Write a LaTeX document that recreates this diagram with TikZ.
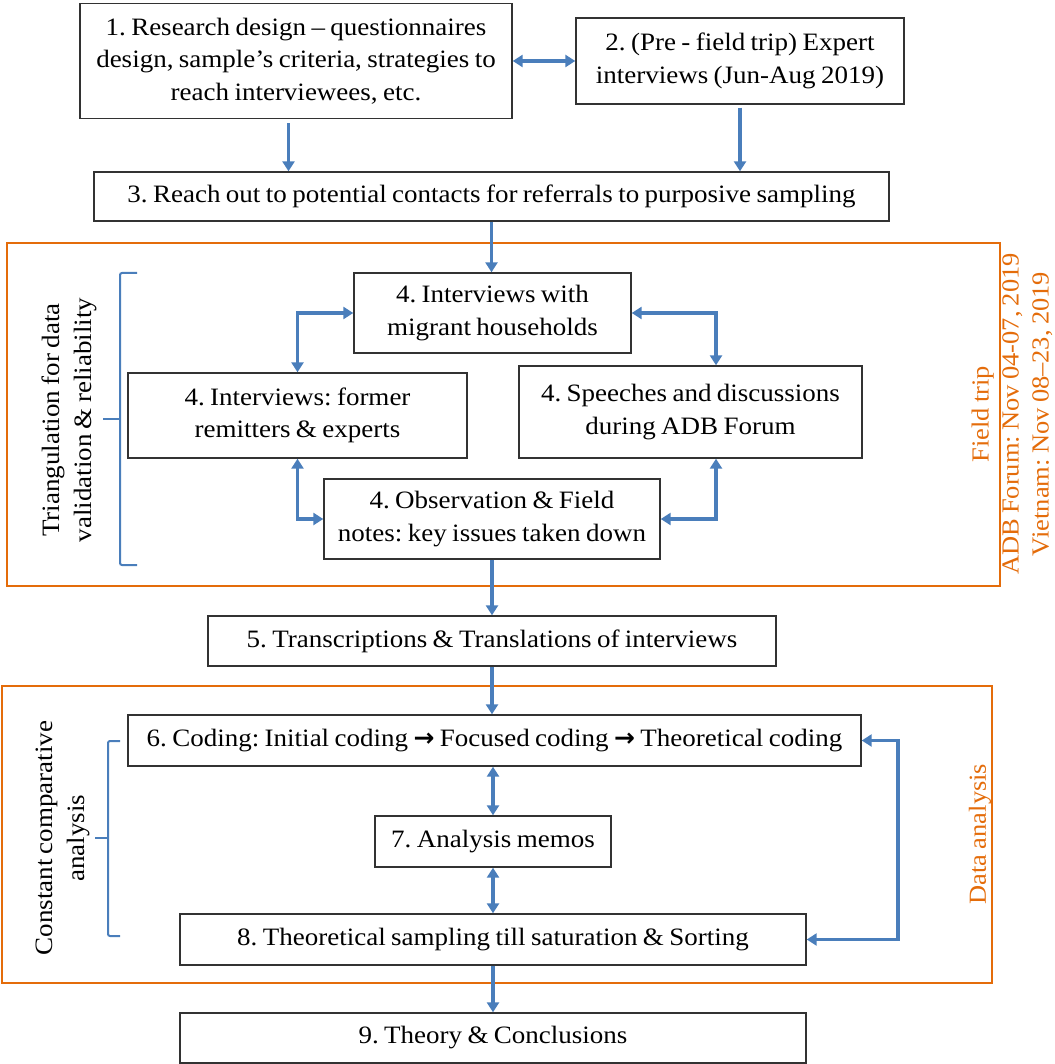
\documentclass[tikz,border=0pt]{standalone}
\usepackage{fontspec}
\setmainfont{Liberation Serif}[FakeStretch=1.08, WordSpace=0.8]
\newfontfamily\arrfont{DejaVu Sans}
\usetikzlibrary{arrows.meta,calc}
\definecolor{ablue}{RGB}{74,126,187}
\definecolor{aorange}{RGB}{228,108,10}
\definecolor{aborder}{RGB}{50,50,50}
\frenchspacing
\begin{document}
\frenchspacing
\begin{tikzpicture}[x=1pt,y=-1pt,
  box/.style={draw=aborder, line width=1.4pt, fill=white, inner sep=0pt, align=center, font=\fontsize{25}{32.5}\selectfont},
  arr/.style={ablue, line width=3.2pt, -{Triangle[length=10pt,width=12pt]}},
  darr/.style={ablue, line width=3.2pt, {Triangle[length=10pt,width=12pt]}-{Triangle[length=10pt,width=12pt]}},
  frame/.style={draw=aorange, line width=2.5pt},
  olabel/.style={aorange, rotate=90, align=center, inner sep=0pt, font=\fontsize{24.5}{30}\selectfont},
  blabel/.style={black, rotate=90, align=center, inner sep=0pt, font=\fontsize{25}{32}\selectfont},
  brace/.style={ablue, line width=2pt, rounded corners=2pt}]
\useasboundingbox (0,0) rectangle (1054,1064);
% frames
\draw[frame] (7,243) rectangle (1000,586);
\draw[frame] (2,686) rectangle (992,983);
% nodes
\node[box, minimum width=432pt, minimum height=115pt] (b1) at (296,61) {1. Research design -- questionnaires\\design, sample’s criteria, strategies to\\reach interviewees, etc.};
\node[box, minimum width=328pt, minimum height=86pt] (b2) at (740,61) {2. (Pre - field trip) Expert\\interviews (Jun-Aug 2019)};
\node[box, minimum width=795pt, minimum height=49pt] (b3) at (491.5,196.5) {3. Reach out to potential contacts for referrals to purposive sampling};
\node[box, minimum width=277pt, minimum height=80pt] (b4a) at (492.5,313) {4. Interviews with\\migrant households};
\node[box, minimum width=339pt, minimum height=85pt] (b4b) at (297.5,415.5) {4. Interviews: former\\remitters \& experts};
\node[box, minimum width=343pt, minimum height=92pt] (b4c) at (690.5,412) {4. Speeches and discussions\\during ADB Forum};
\node[box, minimum width=336pt, minimum height=80pt] (b4d) at (492,519) {4. Observation \& Field\\notes: key issues taken down};
\node[box, minimum width=568pt, minimum height=50pt] (b5) at (492,641) {5. Transcriptions \& Translations of interviews};
\node[box, minimum width=733pt, minimum height=51pt] (b6) at (494.5,740.5) {6. Coding: Initial coding {\arrfont\bfseries\fontsize{25}{25}\selectfont →} Focused coding {\arrfont\bfseries\fontsize{25}{25}\selectfont →} Theoretical coding};
\node[box, minimum width=236pt, minimum height=51pt] (b7) at (493,841.5) {7. Analysis memos};
\node[box, minimum width=626pt, minimum height=51pt] (b8) at (493,939.5) {8. Theoretical sampling till saturation \& Sorting};
\node[box, minimum width=626pt, minimum height=50pt] (b9) at (493,1038) {9. Theory \& Conclusions};
% connectors
\coordinate (a1) at ($(b1.south)+(-7.5,0)$);
\coordinate (rx) at (716,0);
\coordinate (lx) at (898,0);
\draw[darr] (b1.east) -- (b2.west);
\draw[arr, shorten <=4pt] (a1) -- (a1 |- b3.north);
\draw[arr, shorten <=3pt] (b2.south) -- (b2.south |- b3.north);
\draw[arr] (b3.south) -- (b3.south |- b4a.north);
\draw[darr] (b4a.west) -| (b4b.north);
\draw[darr] (b4b.south) |- (b4d.west);
\draw[darr] (b4a.east) -| (rx |- b4c.north);
\draw[darr] (rx |- b4c.south) |- (b4d.east);
\draw[arr] (b4d.south) -- (b4d.south |- b5.north);
\draw[arr] (b5.south) -- (b5.south |- b6.north);
\draw[darr] (b7.north) -- (b7.north |- b6.south);
\draw[darr] (b7.south) -- (b8.north);
\draw[arr] (b8.south) -- (b9.north);
\draw[darr] (b8.east) -- (lx |- b8.east) -- (lx |- b6.east) -- (b6.east);
% labels
\node[blabel] (tri) at (69,420) {Triangulation for data\\validation \& reliability};
\node[blabel] (cca) at (62.5,838) {Constant comparative\\analysis};
\node[olabel] (ftl) at (1012,414) {Field trip\\ADB Forum: Nov 04-07, 2019\\Vietnam: Nov 08--23, 2019};
\node[olabel] (dal) at (980,834) {Data analysis};
% brackets
\draw[brace] (137,273) -- (120,273) -- (120,565) -- (137,565);
\draw[brace] (120,419) -- (103,419);
\draw[brace] (120,741) -- (108,741) -- (108,936) -- (120,936);
\draw[brace] (108,838) -- (95,838);
\end{tikzpicture}
\end{document}
